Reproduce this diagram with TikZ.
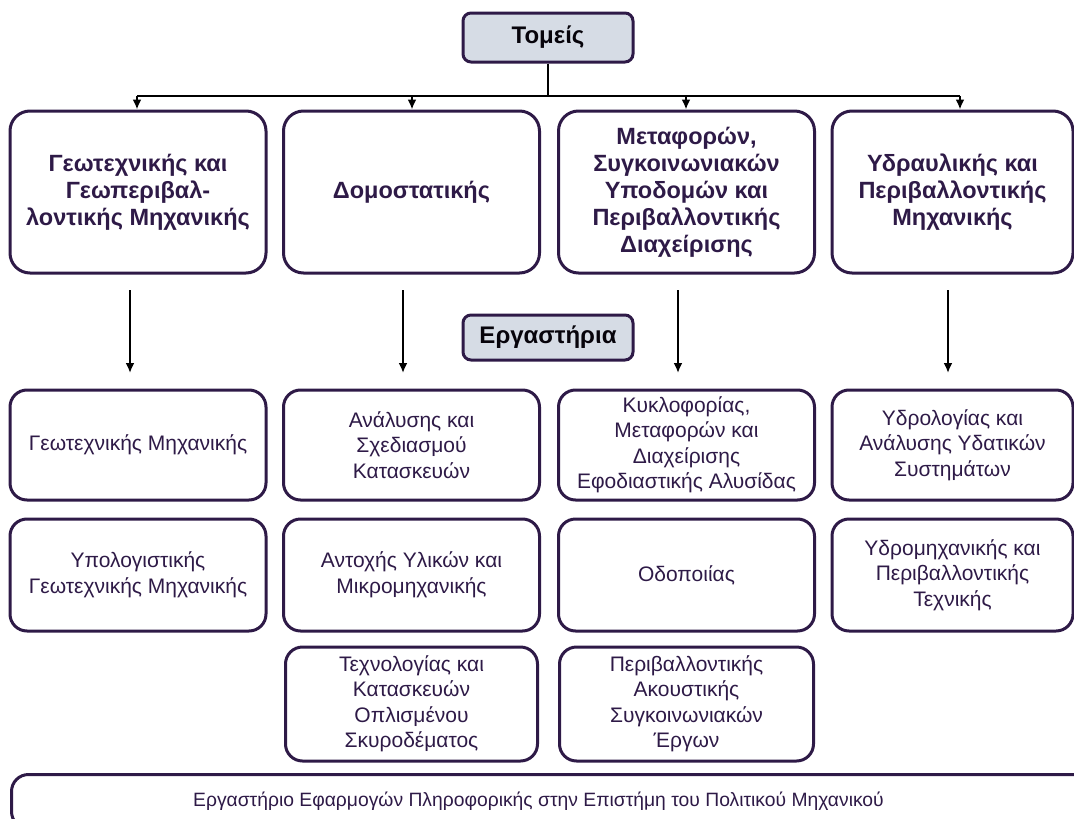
\documentclass[tikz,border=0pt]{standalone}
\usepackage{fontspec}
\setmainfont{Liberation Sans}
\definecolor{ink}{HTML}{2E1A47}
\definecolor{titlefill}{HTML}{D6DCE5}
\tikzset{
  box/.style={draw=ink, line width=3pt, rounded corners=20pt, text=ink, align=center, inner sep=2pt},
  sector/.style={box, minimum width=256pt, minimum height=162pt, font=\fontsize{23.5}{27}\selectfont\bfseries},
  lab/.style={box, rounded corners=17pt, minimum width=256pt, font=\fontsize{21}{25.5}\selectfont},
  title/.style={draw=ink, line width=3pt, rounded corners=8pt, fill=titlefill, text=black!85!ink, minimum width=170pt, font=\fontsize{24}{28}\selectfont\bfseries},
  arr/.style={line width=2pt, -{Latex[length=10pt,width=9pt]}}
}
\usetikzlibrary{arrows.meta}
\begin{document}
\begin{tikzpicture}[x=1pt,y=-1pt]
\useasboundingbox (0,0) rectangle (1074,819);
\clip (0,0) rectangle (1074,819);
% sectors
\node[title, minimum height=49pt] (tomeis) at (548,37.5) {Τομείς};
\node[sector] (s1) at (138,192) {Γεωτεχνικής και\\Γεωπεριβαλ-\\λοντικής Μηχανικής};
\node[sector] (s2) at (411.5,192) {Δομοστατικής};
\node[sector] (s3) at (686.5,192) {Μεταφορών,\\Συγκοινωνιακών\\Υποδομών και\\Περιβαλλοντικής\\Διαχείρισης};
\node[sector, minimum width=241pt] (s4) at (952.5,192) {Υδραυλικής και\\Περιβαλλοντικής\\Μηχανικής};
\coordinate (bus) at (548,96);
\coordinate (b1) at (137,96);
\coordinate (b2) at (412,96);
\coordinate (b3) at (686,96);
\coordinate (b4) at (960,96);
\draw[line width=2pt] (tomeis.south) -- (bus);
\draw[line width=2pt] (b1) -- (b4);
\draw[arr] (b1) -- (b1 |- s1.north);
\draw[arr] (b2) -- (b2 |- s2.north);
\draw[arr] (b3) -- (b3 |- s3.north);
\draw[arr] (b4) -- (b4 |- s4.north);
% labs
\node[title, minimum height=45pt] (erg) at (548,337.5) {Εργαστήρια};
\foreach \x/\n in {130/1, 403/2, 678/3, 948/4} {
  \coordinate (t\n) at (\x,290);
  \coordinate (h\n) at (\x,373);
  \draw[arr] (t\n) -- (h\n);
}
\node[lab, minimum height=110pt] (l11) at (138,445) {Γεωτεχνικής Μηχανικής};
\node[lab, minimum height=110pt] (l21) at (411.5,445) {Ανάλυσης και\\Σχεδιασμού\\Κατασκευών};
\node[lab, minimum height=110pt] (l31) at (686.5,445) {Κυκλοφορίας,\\Μεταφορών και\\Διαχείρισης\\Εφοδιαστικής Αλυσίδας};
\node[lab, minimum height=110pt, minimum width=241pt] (l41) at (952.5,445) {Υδρολογίας και\\Ανάλυσης Υδατικών\\Συστημάτων};
\node[lab, minimum height=112pt] (l12) at (138,575) {Υπολογιστικής\\Γεωτεχνικής Μηχανικής};
\node[lab, minimum height=112pt] (l22) at (411.5,575) {Αντοχής Υλικών και\\Μικρομηχανικής};
\node[lab, minimum height=112pt] (l32) at (686.5,575) {Οδοποιίας};
\node[lab, minimum height=112pt, minimum width=241pt] (l42) at (952.5,575) {Υδρομηχανικής και\\Περιβαλλοντικής\\Τεχνικής};
\node[lab, minimum height=114pt, minimum width=252pt] (l23) at (411.5,704) {Τεχνολογίας και\\Κατασκευών\\Οπλισμένου\\Σκυροδέματος};
\node[lab, minimum height=114pt, minimum width=254pt] (l33) at (686.5,704) {Περιβαλλοντικής\\Ακουστικής\\Συγκοινωνιακών\\Έργων};
\node[lab, anchor=north west, minimum width=1090pt, minimum height=54pt, font=\fontsize{19.3}{23}\selectfont] (pol) at (10,773) {Εργαστήριο Εφαρμογών Πληροφορικής στην Επιστήμη του Πολιτικού Μηχανικού\hspace*{36pt}};
\end{tikzpicture}
\end{document}
